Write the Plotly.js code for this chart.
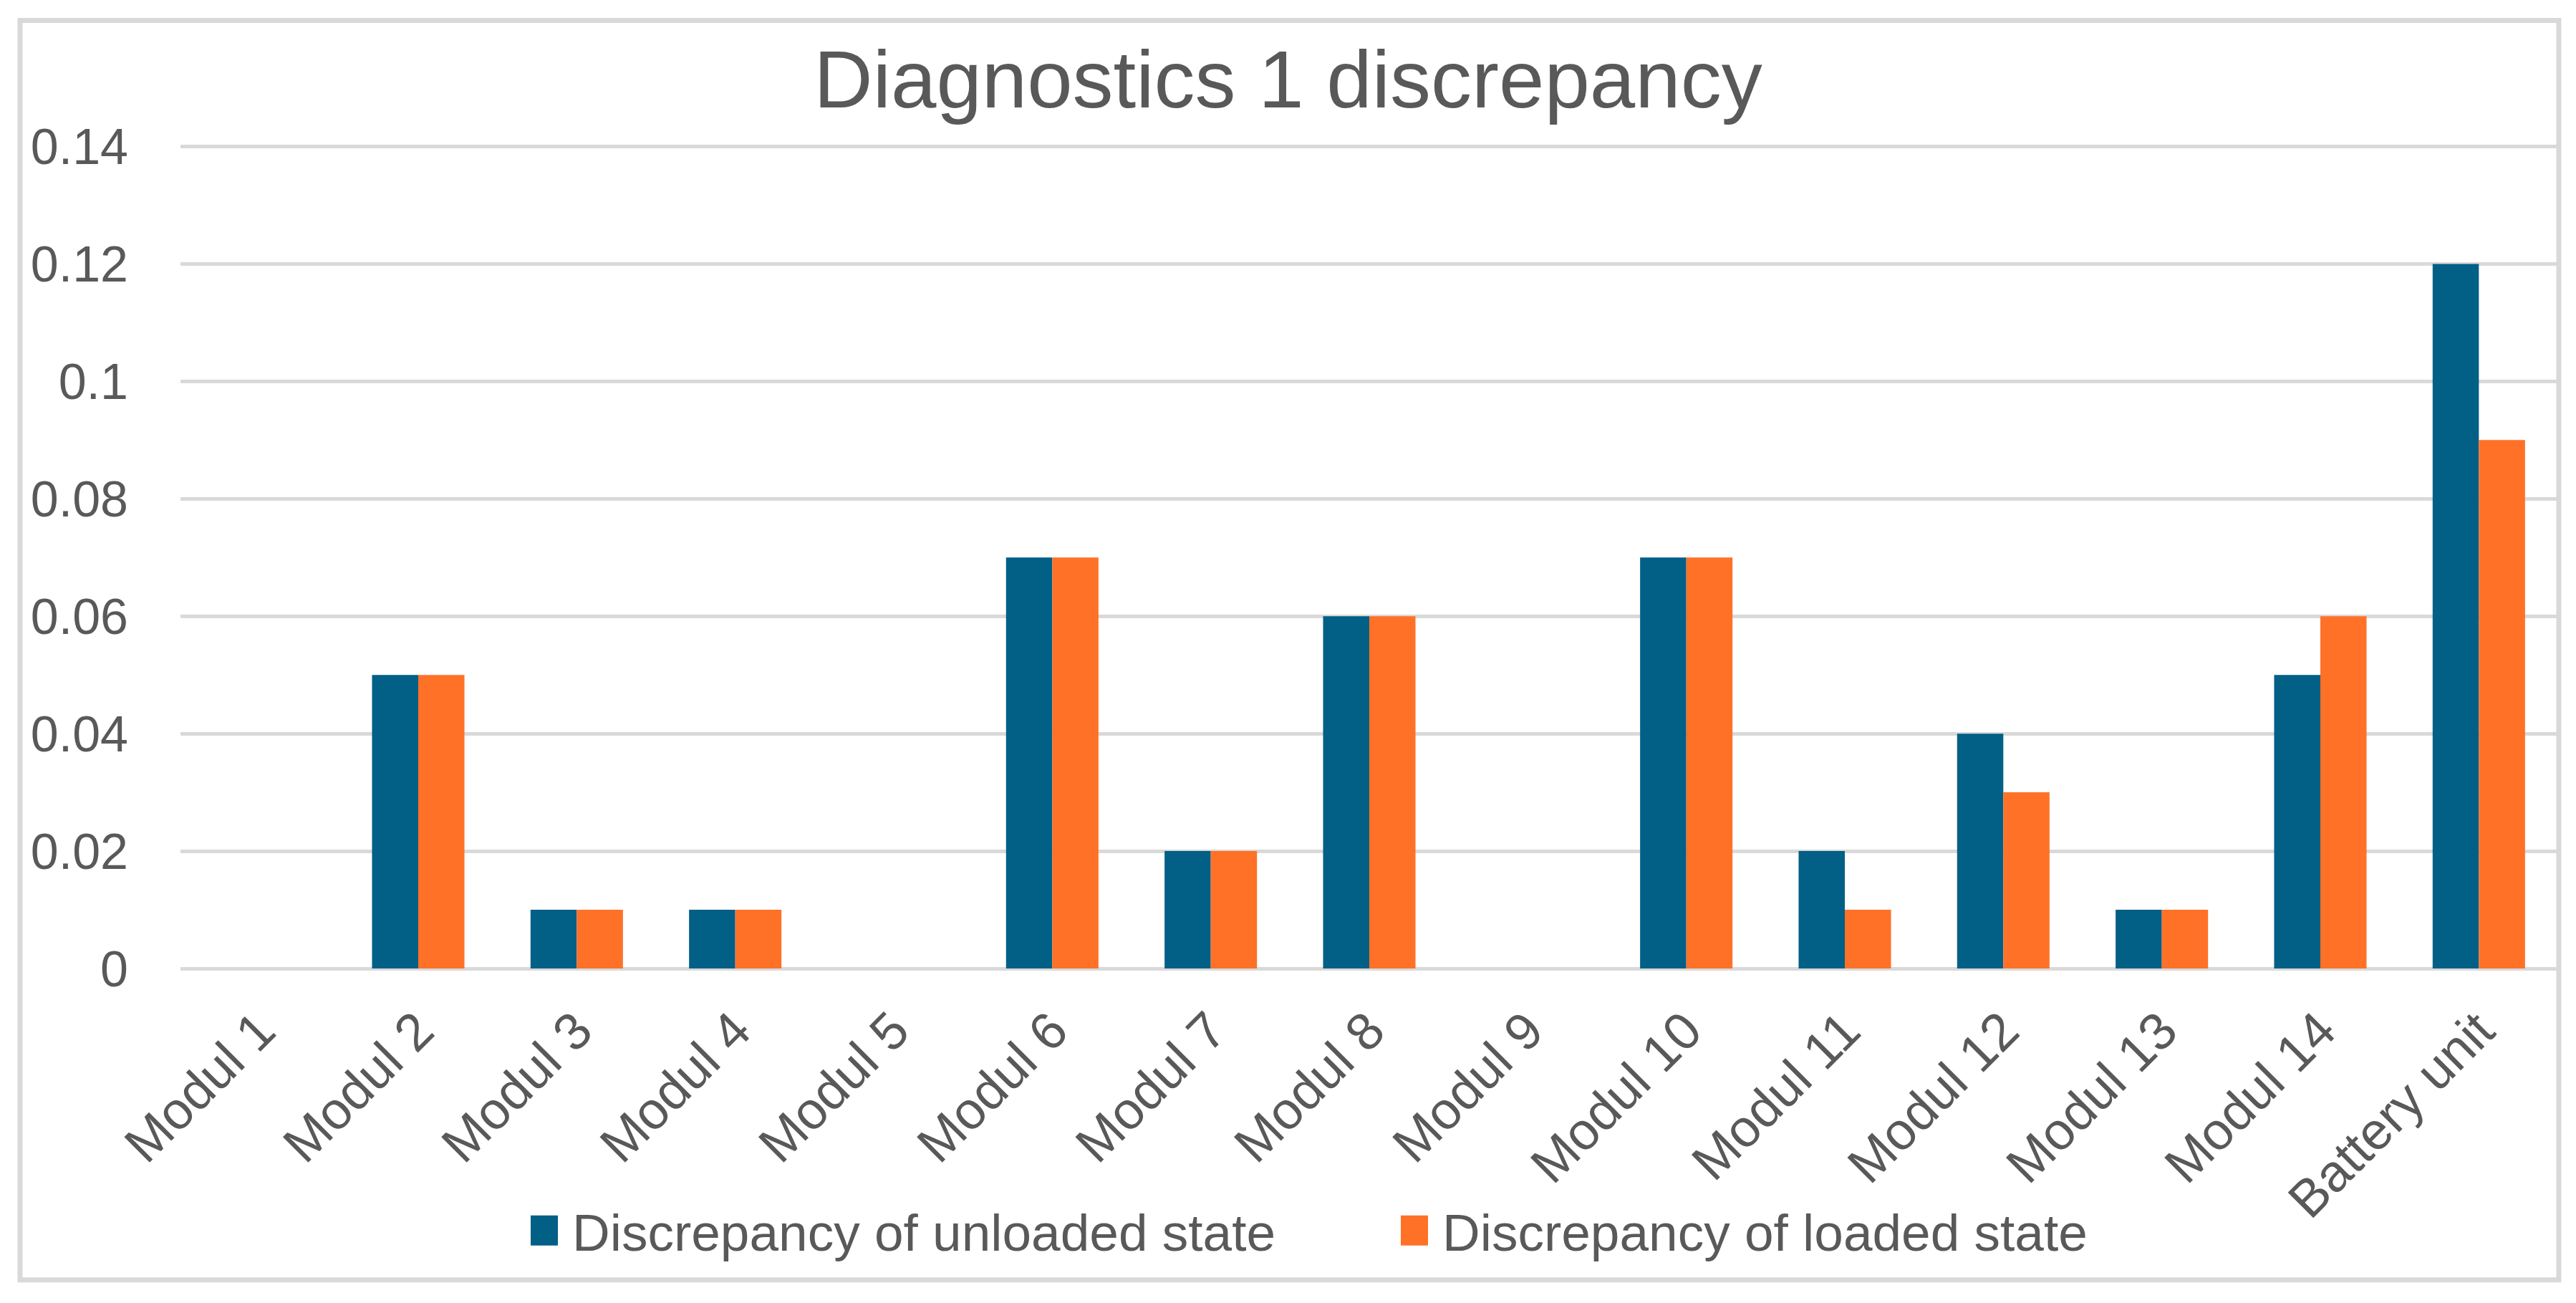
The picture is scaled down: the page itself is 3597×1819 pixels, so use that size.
<!DOCTYPE html>
<html>
<head>
<meta charset="utf-8">
<script src="https://cdn.plot.ly/plotly-3.0.1.min.js"></script>
<style>
html, body { margin: 0; padding: 0; background: #ffffff; }
#chart { width: 3597px; height: 1819px; }
</style>
</head>
<body>
<div id="chart"></div>
<script>
const categories = ["Modul 1", "Modul 2", "Modul 3", "Modul 4", "Modul 5", "Modul 6", "Modul 7",
  "Modul 8", "Modul 9", "Modul 10", "Modul 11", "Modul 12", "Modul 13", "Modul 14", "Battery unit"];
const unloaded = [0, 0.05, 0.01, 0.01, 0, 0.07, 0.02, 0.06, 0, 0.07, 0.02, 0.04, 0.01, 0.05, 0.12];
const loaded   = [0, 0.05, 0.01, 0.01, 0, 0.07, 0.02, 0.06, 0, 0.07, 0.01, 0.03, 0.01, 0.06, 0.09];
const seriesNames = ["Discrepancy of unloaded state", "Discrepancy of loaded state"];
const yTickVals = [0, 0.02, 0.04, 0.06, 0.08, 0.1, 0.12, 0.14];
const yTickText = ["0", "0.02", "0.04", "0.06", "0.08", "0.1", "0.12", "0.14"];
const titleText = "Diagnostics 1 discrepancy";

const FONT = "Liberation Sans, Arial, sans-serif";
const GRAY = "#595959";

const traces = [
  { type: "bar", name: seriesNames[0], x: categories, y: unloaded,
    marker: { color: "#025F86" }, hoverinfo: "none" },
  { type: "bar", name: seriesNames[1], x: categories, y: loaded,
    marker: { color: "#FF7127" }, hoverinfo: "none" }
];

// plot area in px: left 252, right 3572, top ~203, bottom 1352
const YMAX = 0.1403;
const L = 252, R = 3572, B = 1352;
const T = B - (B - 204) * YMAX / 0.14;
const W = 3597, H = 1819;
const px2x = v => (v - L) / (R - L);
const py2y = v => (B - v) / (B - T);

const layout = {
  width: W, height: H,
  paper_bgcolor: "#ffffff", plot_bgcolor: "#ffffff",
  margin: { l: L, r: W - R, t: T, b: H - B, pad: 0 },
  font: { family: FONT, color: GRAY, size: 70 },
  title: { text: titleText, font: { family: FONT, size: 114, color: GRAY },
           x: 0.5, xref: "container", xanchor: "center",
           y: 1 - 110 / H, yref: "container", yanchor: "middle" },
  barmode: "group", bargap: 0.417, bargroupgap: 0,
  showlegend: true,
  legend: { orientation: "h", x: px2x(736), xanchor: "left", y: py2y(1718), yanchor: "middle",
            font: { family: FONT, size: 73, color: GRAY }, itemwidth: 53,
            entrywidth: 1147, entrywidthmode: "pixels",
            bgcolor: "rgba(0,0,0,0)", borderwidth: 0 },
  xaxis: { type: "category", tickangle: -45, showgrid: false, zeroline: false, showline: false,
           ticks: "", ticklabelstandoff: 28,
           tickfont: { family: FONT, size: 73, color: GRAY }, fixedrange: true },
  yaxis: { range: [0, YMAX], tickvals: yTickVals, ticktext: yTickText, showgrid: true,
           gridcolor: "#d9d9d9", gridwidth: 5, zeroline: true, zerolinecolor: "#d9d9d9", zerolinewidth: 5,
           showline: false, ticks: "", ticklabelstandoff: 72,
           tickfont: { family: FONT, size: 70, color: GRAY }, fixedrange: true },
  shapes: [
    { type: "rect", xref: "paper", yref: "paper", layer: "below",
      x0: px2x(28), x1: px2x(3573), y0: py2y(1787), y1: py2y(28),
      line: { color: "#d9d9d9", width: 7 }, fillcolor: "rgba(0,0,0,0)" }
  ]
};

const gdEl = document.getElementById("chart");
function enlargeSwatches() {
  // tall rectangular legend keys as in the reference
  gdEl.querySelectorAll("g.legendpoints path").forEach(function (p) {
    p.setAttribute("d", "M11.5,21H-26.5V-21H11.5Z");
  });
}
Plotly.newPlot(gdEl, traces, layout, { staticPlot: true, displayModeBar: false }).then(function (gd) {
  enlargeSwatches();
  gd.on("plotly_afterplot", enlargeSwatches);
  setTimeout(enlargeSwatches, 0);
  setTimeout(enlargeSwatches, 200);
});
</script>
</body>
</html>
